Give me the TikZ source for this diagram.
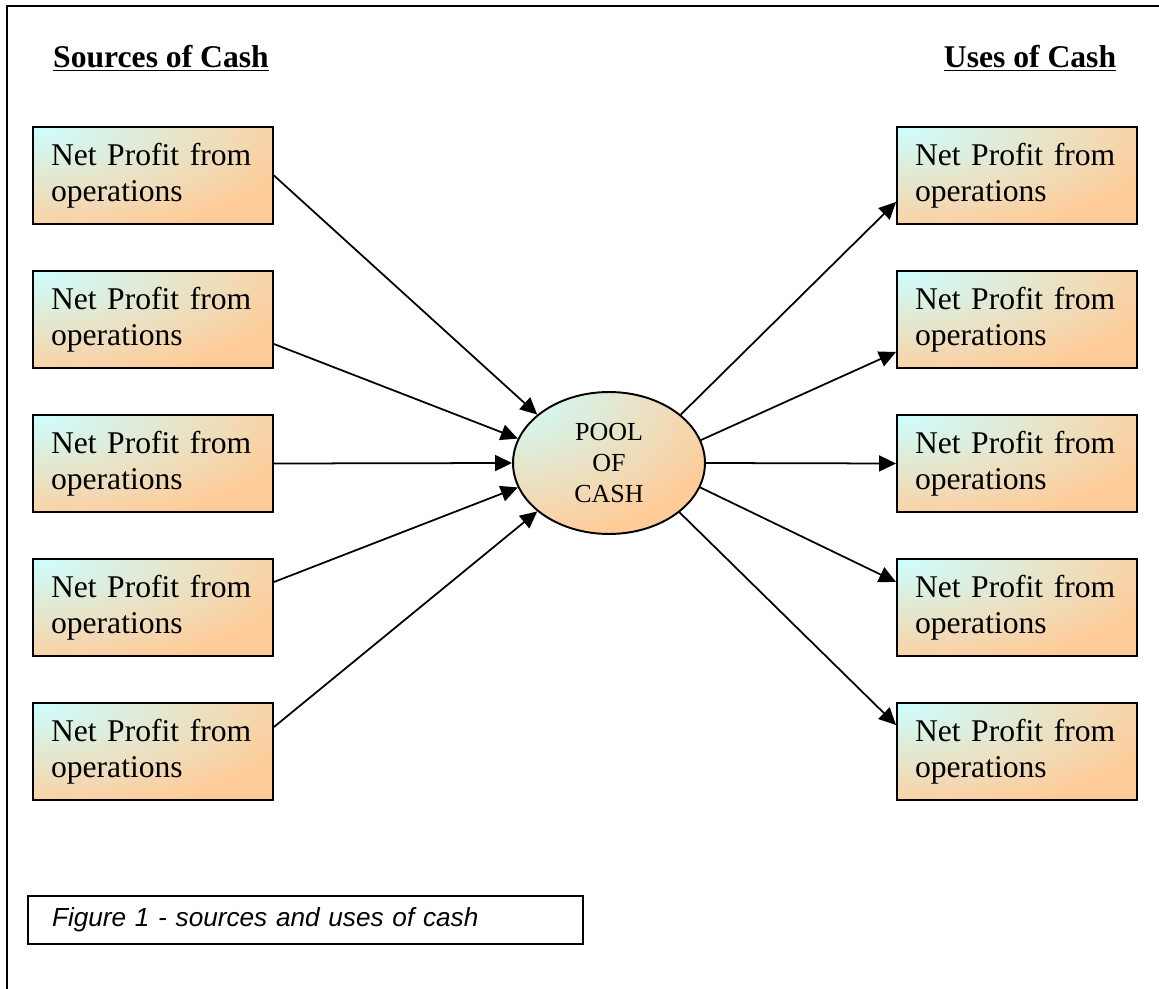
\documentclass[tikz,border=0pt]{standalone}
\usepackage{fontspec}
\setmainfont{Liberation Serif}
\setsansfont{Liberation Sans}
\usepackage{tikz}
\usetikzlibrary{arrows.meta,shapes.geometric}

\definecolor{peach}{HTML}{FFCC99}
\definecolor{paleblue}{HTML}{CCFFFF}
\newcommand{\boxfont}{\fontsize{18}{20.4}\selectfont}
\newcommand{\poolfont}{\fontsize{14.8}{17.5}\selectfont}
\newcommand{\capfont}{\fontsize{14.9}{18}\selectfont\sffamily\itshape}

\tikzset{
  cashbox/.style={draw=black, line width=1.1pt, fill=peach, minimum width=4.8cm, minimum height=1.94cm,
    text width=4.08cm, align=left, inner xsep=0.36cm, inner ysep=0pt, font=\boxfont,
    path picture={\shade[inner color=paleblue, outer color=peach] (path picture bounding box.north west) ellipse (5.5cm and 2.2cm);}},
  flow/.style={draw=black, line width=1pt, -{Triangle[length=3.4mm,width=3.2mm]}},
  heading/.style={font=\boxfont\bfseries, inner sep=0pt}
}

\begin{document}
\begin{tikzpicture}[x=0.02cm, y=-0.02cm]
        \useasboundingbox (0,0) rectangle (1159,989);
        \draw[line width=1.1pt] (7,989) -- (7,6) -- (1159,6);

        \node[heading] (srchead) at (161,58) {\underline{Sources of Cash}};
        \node[heading] (usehead) at (1030,58) {\underline{Uses of Cash}};

        \node[cashbox] (s1) at (153,175.5) {Net Profit from\\operations};
        \node[cashbox] (s2) at (153,319.5) {Net Profit from\\operations};
        \node[cashbox] (s3) at (153,463.5) {Net Profit from\\operations};
        \node[cashbox] (s4) at (153,607.5) {Net Profit from\\operations};
        \node[cashbox] (s5) at (153,751.5) {Net Profit from\\operations};

        \node[cashbox] (u1) at (1017,175.5) {Net Profit from\\operations};
        \node[cashbox] (u2) at (1017,319.5) {Net Profit from\\operations};
        \node[cashbox] (u3) at (1017,463.5) {Net Profit from\\operations};
        \node[cashbox] (u4) at (1017,607.5) {Net Profit from\\operations};
        \node[cashbox] (u5) at (1017,751.5) {Net Profit from\\operations};

        \node[ellipse, draw=black, line width=1.1pt, fill=peach, minimum width=3.84cm, minimum height=2.84cm,
          inner sep=0pt, align=center, font=\poolfont,
          path picture={\shade[inner color=paleblue, outer color=peach] (path picture bounding box.north west) ellipse (4.5cm and 3cm);}]
          (pool) at (609,463) {POOL\\OF\\CASH};

        \draw[flow] (s1.east) -- (pool.146);
        \draw[flow] ([yshift=-0.49cm]s2.east) -- (pool.165);
        \draw[flow] (s3.east) -- (pool.west);
        \draw[flow] ([yshift=0.51cm]s4.east) -- (pool.195);
        \draw[flow] ([yshift=0.49cm]s5.east) -- (pool.214);

        \draw[flow] (pool.34) -- ([yshift=-0.53cm]u1.west);
        \draw[flow] (pool.14) -- ([yshift=-0.65cm]u2.west);
        \draw[flow] (pool.east) -- (u3.west);
        \draw[flow] (pool.-15) -- ([yshift=0.51cm]u4.west);
        \draw[flow] (pool.-35) -- ([yshift=0.53cm]u5.west);

        \node[draw=black, line width=0.9pt, minimum width=11.1cm, minimum height=0.96cm, text width=10.14cm,
          inner xsep=0.48cm, align=left, font=\capfont] (caption) at (305.5,920) {Figure 1 - sources and uses of cash};
     \end{tikzpicture}
\end{document}
